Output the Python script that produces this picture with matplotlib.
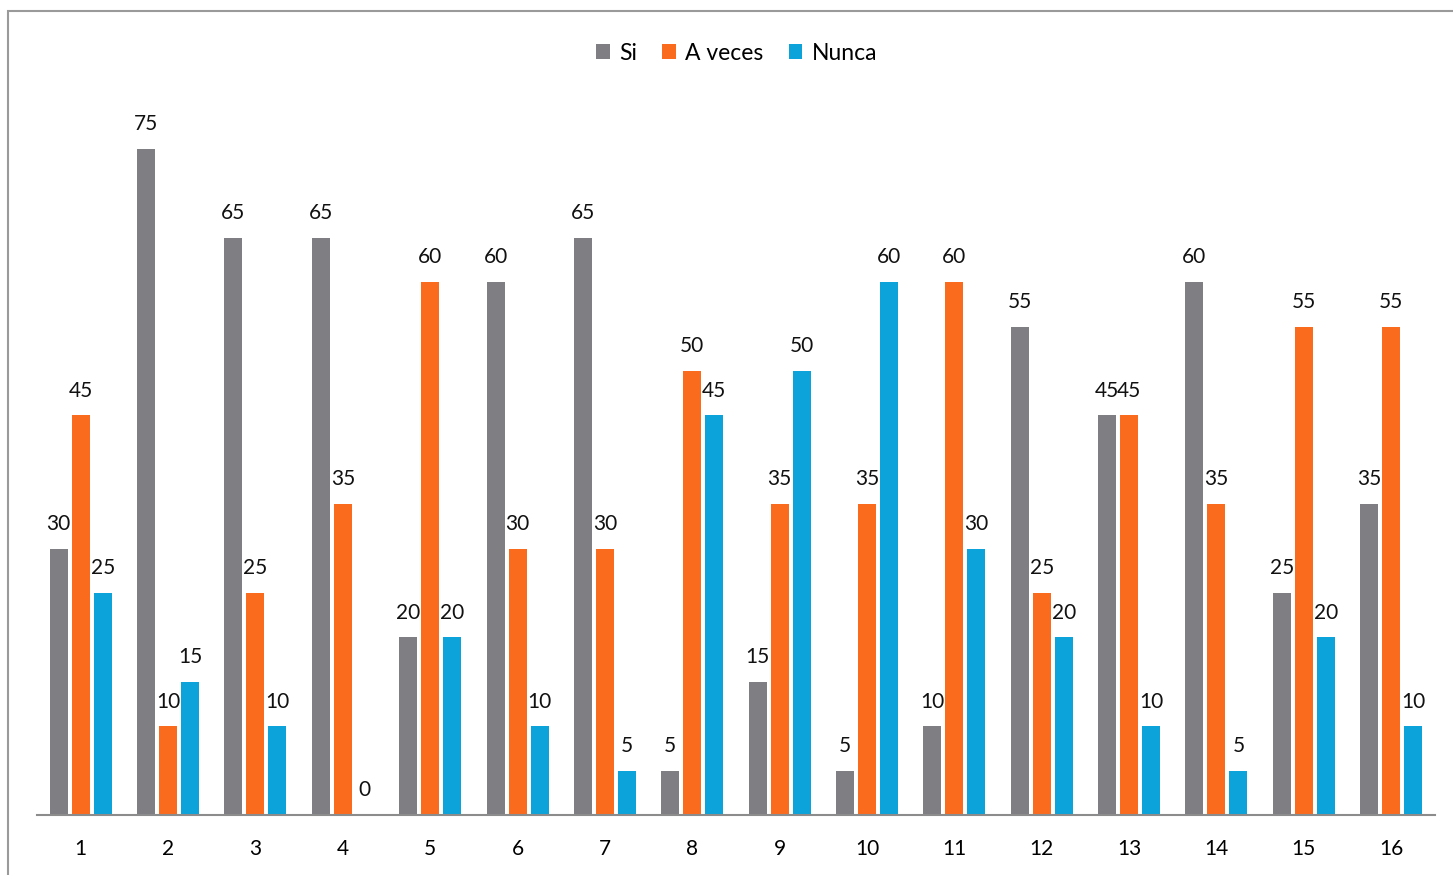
import matplotlib
matplotlib.use("Agg")
import matplotlib.pyplot as plt
import numpy as np
from matplotlib.patches import Rectangle

plt.rcParams['font.family'] = ['Lato', 'DejaVu Sans']

categories = [str(i) for i in range(1, 17)]
si = [30, 75, 65, 65, 20, 60, 65, 5, 15, 5, 10, 55, 45, 60, 25, 35]
a_veces = [45, 10, 25, 35, 60, 30, 30, 50, 35, 35, 60, 25, 45, 35, 55, 55]
nunca = [25, 15, 10, 0, 20, 10, 5, 45, 50, 60, 30, 20, 10, 5, 20, 10]

series = [("Si", si, "#7f7f83"),
          ("A veces", a_veces, "#fa6b1e"),
          ("Nunca", nunca, "#0ba3da")]

fig = plt.figure(figsize=(14.53, 8.75), dpi=100)
ax = fig.add_axes([0.0255, 0.0686, 0.962, 0.812])

x = np.arange(len(categories))
width = 0.206
step = 0.252
for i, (name, vals, color) in enumerate(series):
    pos = x + (i - 1) * step
    bars = ax.bar(pos, vals, width, color=color, label=name, zorder=2)
    for xp, v in zip(pos, vals):
        ax.text(xp, v + 1.65, str(v), ha="center", va="bottom",
                fontsize=15, color="#111111")

ax.set_xlim(-0.5, len(categories) - 0.5)
ax.set_ylim(0, 80)
ax.set_xticks(x)
ax.set_xticklabels(categories, fontsize=15)
ax.tick_params(axis="x", length=0, pad=17)
ax.set_yticks([])
for side in ["top", "right", "left"]:
    ax.spines[side].set_visible(False)
ax.spines["bottom"].set_color("#8c8c8c")
ax.spines["bottom"].set_linewidth(1.5)

fig.legend(loc="upper center", bbox_to_anchor=(0.507, 0.975), ncol=3,
           frameon=False, fontsize=16.5, handlelength=0.6, handleheight=0.6,
           handletextpad=0.4, columnspacing=1.1)

# outer chart frame
fig.patches.append(Rectangle((8 / 1453, -0.1), 1.2, 1.1 - 11 / 875,
                             transform=fig.transFigure, fill=False,
                             edgecolor="#9a9a9a", linewidth=1.5))

fig.savefig("out.png", dpi=100)
